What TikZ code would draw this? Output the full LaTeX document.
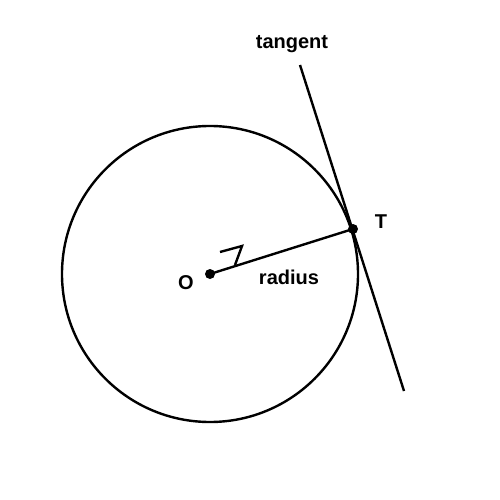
\documentclass[tikz,border=0pt]{standalone}
\usepackage{fontspec}
\setmainfont{Liberation Sans}
\begin{document}
\begin{tikzpicture}[x=1pt,y=-1pt,
  lbl/.style={font=\fontsize{20}{24}\selectfont\bfseries, inner sep=0pt},
  ln/.style={line width=2.4pt},
  dot/.style={circle, fill=black, inner sep=0pt, minimum size=10pt}]
\useasboundingbox (0,0) rectangle (500,500);
\fill[white] (0,0) rectangle (500,500);
\coordinate (C) at (210,274);
\draw[ln] (C) circle[radius=148];
\node[dot] (O) at (210,274) {};
\node[dot] (T) at (353,229) {};
\coordinate (tA) at (300,65);
\coordinate (tB) at (404,391);
\draw[ln] (tA) -- (tB);
\draw[ln] (O.center) -- (T.center);
\coordinate (m1) at (220,252);
\coordinate (m2) at (242,246);
\coordinate (m3) at (235,265);
\draw[ln] (m1) -- (m2) -- (m3);
\node[lbl] (lt) at (292,44) {tangent};
\node[lbl] (lT) at (381,222) {T};
\node[lbl] (lO) at (186,283) {O};
\node[lbl] (lr) at (289,277) {radius};
\end{tikzpicture}
\end{document}
